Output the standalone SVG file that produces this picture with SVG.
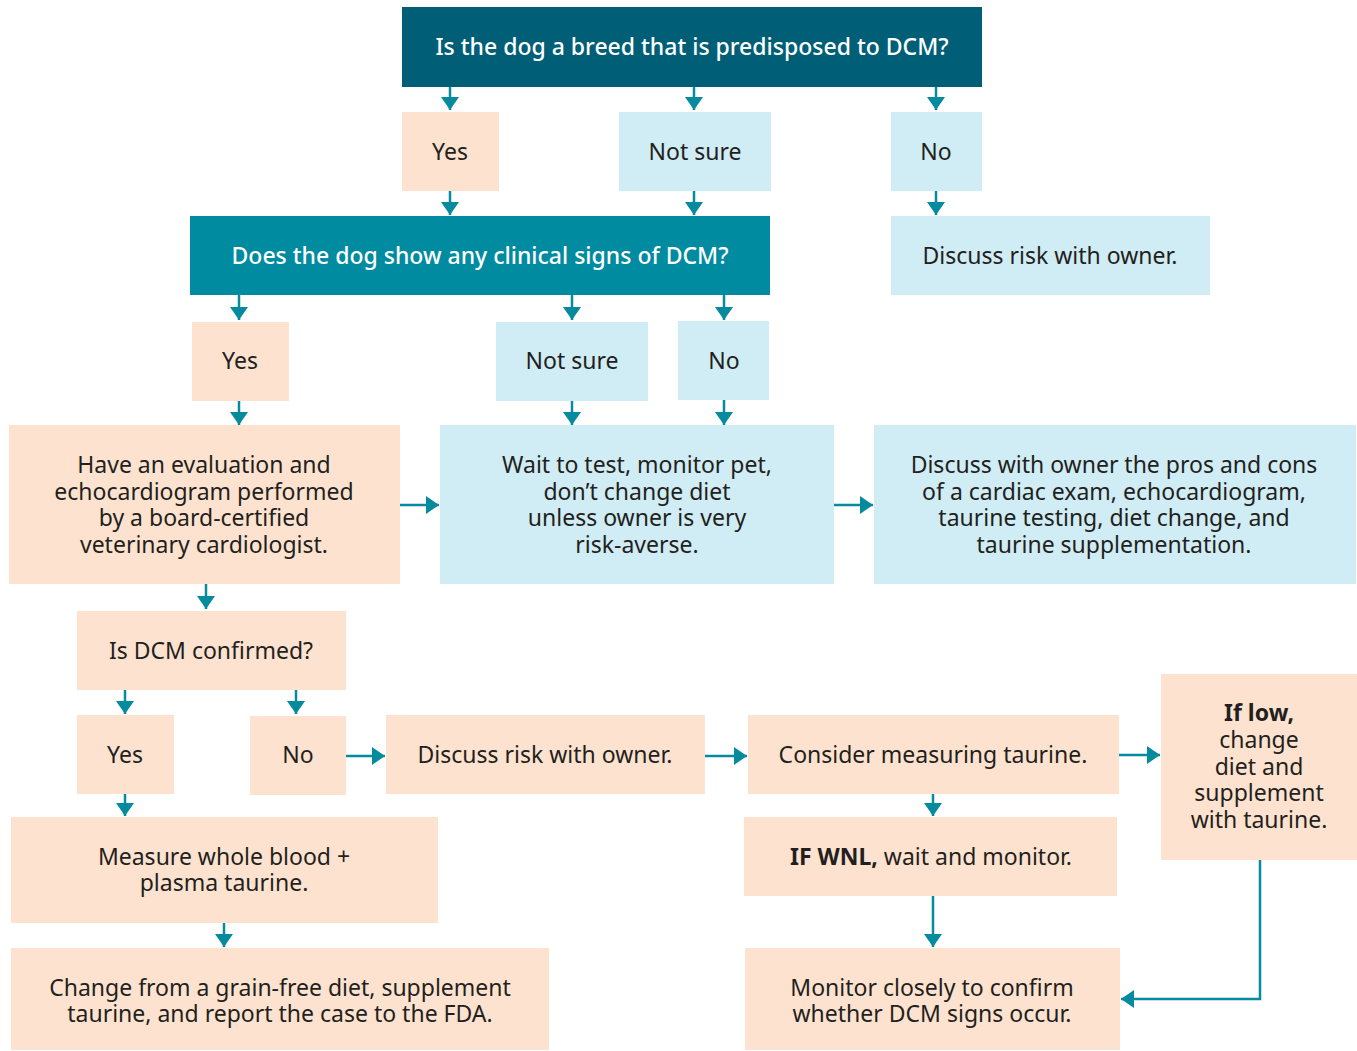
<svg xmlns="http://www.w3.org/2000/svg" width="1357" height="1051" viewBox="0 0 1357 1051">
<defs>
<marker id="ah" markerUnits="userSpaceOnUse" markerWidth="16" markerHeight="20" refX="13" refY="9" orient="auto">
<path d="M0,0 L13,9 L0,18 Z" fill="#068A9E"/>
</marker>
<style>
.dark{fill:#005F76}
.mid{fill:#008BA0}
.peach{fill:#FDE3CF}
.blue{fill:#D0ECF4}
text{font-family:"Noto Sans","Open Sans",sans-serif;font-size:23px;fill:#231F20;text-anchor:middle}
.w{fill:#FFFFFF;font-weight:500}
.b{font-weight:bold}
.c path{fill:none;stroke:#068A9E;stroke-width:2.5;marker-end:url(#ah)}
</style>
</defs>
<rect width="1357" height="1051" fill="#FFFFFF"/>
<g id="q1"><rect class="dark" x="402" y="7" width="580" height="80"/><text class="w" x="692" y="55">Is the dog a breed that is predisposed to DCM?</text></g>
<g id="yes1"><rect class="peach" x="402" y="112" width="97" height="79"/><text x="450" y="160">Yes</text></g>
<g id="ns1"><rect class="blue" x="619" y="112" width="152" height="79"/><text x="695" y="160">Not sure</text></g>
<g id="no1"><rect class="blue" x="891" y="112" width="91" height="79"/><text x="936" y="160">No</text></g>
<g id="q2"><rect class="mid" x="190" y="216" width="580" height="79"/><text class="w" x="480" y="264">Does the dog show any clinical signs of DCM?</text></g>
<g id="risk1"><rect class="blue" x="891" y="216" width="319" height="79"/><text x="1050" y="264">Discuss risk with owner.</text></g>
<g id="yes2"><rect class="peach" x="192" y="322" width="97" height="79"/><text x="240" y="369">Yes</text></g>
<g id="ns2"><rect class="blue" x="496" y="322" width="152" height="79"/><text x="572" y="369">Not sure</text></g>
<g id="no2"><rect class="blue" x="678" y="321" width="91" height="79"/><text x="724" y="369">No</text></g>
<g id="eval"><rect class="peach" x="9" y="425" width="391" height="159"/>
<text x="204" y="473">Have an evaluation and</text><text x="204" y="500">echocardiogram performed</text><text x="204" y="526">by a board-certified</text><text x="204" y="553">veterinary cardiologist.</text></g>
<g id="wait"><rect class="blue" x="440" y="425" width="394" height="159"/>
<text x="637" y="473">Wait to test, monitor pet,</text><text x="637" y="500">don’t change diet</text><text x="637" y="526">unless owner is very</text><text x="637" y="553">risk-averse.</text></g>
<g id="pros"><rect class="blue" x="874" y="425" width="482" height="159"/>
<text x="1114" y="473">Discuss with owner the pros and cons</text><text x="1114" y="500">of a cardiac exam, echocardiogram,</text><text x="1114" y="526">taurine testing, diet change, and</text><text x="1114" y="553">taurine supplementation.</text></g>
<g id="q3"><rect class="peach" x="77" y="611" width="269" height="79"/><text x="211" y="659">Is DCM confirmed?</text></g>
<g id="yes3"><rect class="peach" x="77" y="715" width="97" height="79"/><text x="125" y="763">Yes</text></g>
<g id="no3"><rect class="peach" x="250" y="716" width="96" height="79"/><text x="298" y="763">No</text></g>
<g id="risk2"><rect class="peach" x="386" y="715" width="319" height="79"/><text x="545" y="763">Discuss risk with owner.</text></g>
<g id="consider"><rect class="peach" x="748" y="715" width="371" height="79"/><text x="933" y="763">Consider measuring taurine.</text></g>
<g id="low"><rect class="peach" x="1161" y="674" width="196" height="186"/>
<text x="1259" y="721" class="b">If low,</text><text x="1259" y="748">change</text><text x="1259" y="775">diet and</text><text x="1259" y="801">supplement</text><text x="1259" y="828">with taurine.</text></g>
<g id="wnl"><rect class="peach" x="744" y="817" width="373" height="79"/><text x="931" y="865"><tspan class="b">IF WNL,</tspan> wait and monitor.</text></g>
<g id="measure"><rect class="peach" x="11" y="817" width="427" height="106"/><text x="224" y="865">Measure whole blood +</text><text x="224" y="891">plasma taurine.</text></g>
<g id="change"><rect class="peach" x="11" y="948" width="538" height="102"/><text x="280" y="996">Change from a grain-free diet, supplement</text><text x="280" y="1022">taurine, and report the case to the FDA.</text></g>
<g id="monitor"><rect class="peach" x="745" y="948" width="375" height="102"/><text x="932" y="996">Monitor closely to confirm</text><text x="932" y="1022">whether DCM signs occur.</text></g>
<g id="connectors" class="c">
<path d="M450,87 V110"/><path d="M694,87 V110"/><path d="M936,87 V110"/>
<path d="M450,191 V215"/><path d="M694,191 V215"/><path d="M936,191 V215"/>
<path d="M239,295 V320"/><path d="M572,295 V320"/><path d="M724,295 V320"/>
<path d="M239,401 V425"/><path d="M572,401 V425"/><path d="M724,400 V425"/>
<path d="M400,505 H439"/><path d="M834,505 H873"/>
<path d="M206,584 V609"/>
<path d="M125,690 V714"/><path d="M296,690 V714"/>
<path d="M346,756 H385"/><path d="M705,756 H747"/><path d="M1119,755 H1160"/>
<path d="M125,794 V816"/><path d="M933,794 V816"/>
<path d="M224,923 V947"/><path d="M933,896 V947"/>
<path d="M1260,860 V999 H1121"/>
</g>
</svg>
